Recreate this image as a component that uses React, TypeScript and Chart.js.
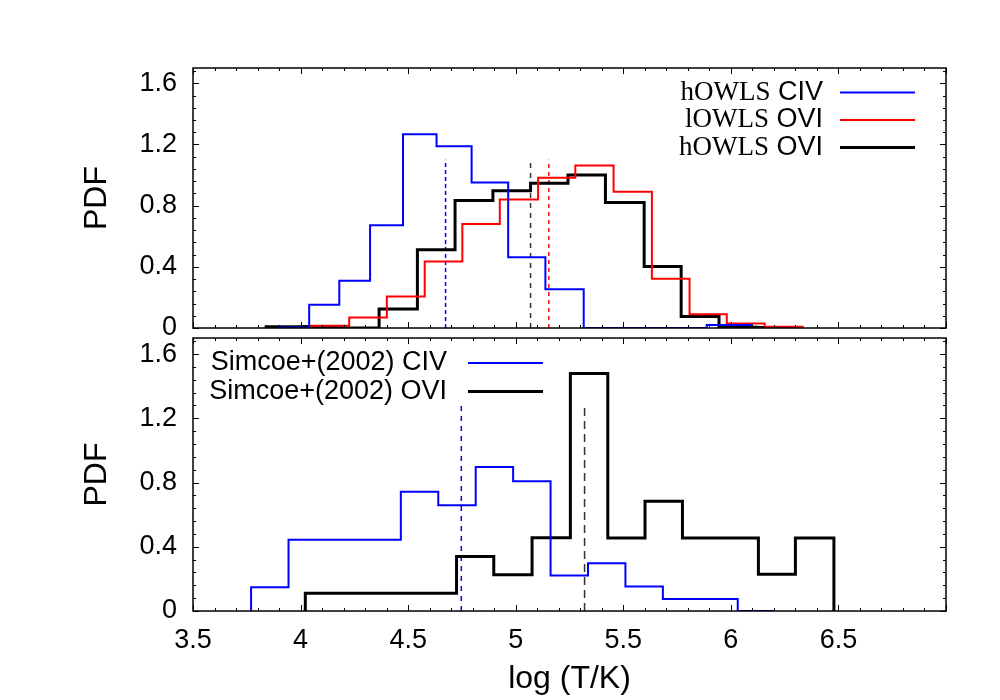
import React, { useEffect, useRef } from 'react';
import { Chart, registerables } from 'chart.js';

Chart.register(...registerables);

// ---------- axes ----------
const X_MIN = 3.5;
const X_MAX = 7.0;
const Y_MIN = 0;
const Y_MAX = 1.7;
const X_TICK_LABELS = ['3.5', '4', '4.5', '5', '5.5', '6', '6.5'];
const Y_TICK_LABELS = ['0', '0.4', '0.8', '1.2', '1.6'];
const X_LABEL = 'log (T/K)';
const Y_LABEL = 'PDF';

// ---------- top panel: OWLS histograms (bin edges + PDF per bin) ----------
const HOWLS_CIV_EDGES = [3.9, 4.04, 4.18, 4.323, 4.476, 4.632, 4.795, 4.965, 5.138, 5.316, 5.888, 6.097];
const HOWLS_CIV_PDF = [0.003, 0.152, 0.309, 0.672, 1.267, 1.189, 0.952, 0.463, 0.254, 0, 0.02];

const LOWLS_OVI_EDGES = [4.05, 4.226, 4.401, 4.577, 4.752, 4.926, 5.104, 5.277, 5.455, 5.633, 5.808, 5.981, 6.157, 6.334];
const LOWLS_OVI_PDF = [0.015, 0.069, 0.206, 0.435, 0.68, 0.841, 0.982, 1.063, 0.891, 0.322, 0.09, 0.03, 0.008];

const HOWLS_OVI_EDGES = [3.84, 4.015, 4.19, 4.365, 4.543, 4.718, 4.894, 5.069, 5.243, 5.417, 5.597, 5.769, 5.945, 6.12, 6.298];
const HOWLS_OVI_PDF = [0.008, 0.01, 0, 0.124, 0.511, 0.833, 0.898, 0.946, 1.0, 0.82, 0.402, 0.076, 0.005, 0.003];

// medians (vertical dashed markers)
const HOWLS_CIV_MEDIAN = 4.674;
const LOWLS_OVI_MEDIAN = 5.154;
const HOWLS_OVI_MEDIAN = 5.069;
const TOP_MEDIAN_HEIGHT = 1.1;

// ---------- bottom panel: Simcoe+(2002) ----------
const SIMCOE_CIV_EDGES = [3.77, 3.944, 4.118, 4.292, 4.466, 4.64, 4.814, 4.988, 5.162, 5.336, 5.51, 5.684, 5.858, 6.032, 6.206];
const SIMCOE_CIV_PDF = [0.148, 0.444, 0.444, 0.444, 0.742, 0.658, 0.896, 0.808, 0.221, 0.298, 0.152, 0.075, 0.075, 0];

const SIMCOE_OVI_EDGES = [4.022, 4.198, 4.374, 4.55, 4.725, 4.898, 5.076, 5.254, 5.428, 5.601, 5.775, 5.952, 6.128, 6.3, 6.479];
const SIMCOE_OVI_PDF = [0.11, 0.11, 0.11, 0.11, 0.34, 0.225, 0.456, 1.479, 0.454, 0.683, 0.454, 0.454, 0.229, 0.454];

const SIMCOE_CIV_MEDIAN = 4.747;
const SIMCOE_OVI_MEDIAN = 5.32;
const BOTTOM_MEDIAN_HEIGHT = 1.277;

const BLUE = '#0000ff';
const RED = '#ff0000';
const BLACK = '#000000';
const SANS = '"Liberation Sans", Arial, Helvetica, sans-serif';
const SERIF = '"Liberation Serif", "Times New Roman", serif';

function histPoints(edges: number[], vals: number[]) {
  const pts: { x: number; y: number }[] = [{ x: edges[0], y: 0 }];
  vals.forEach((v, i) => pts.push({ x: edges[i], y: v }));
  pts.push({ x: edges[edges.length - 1], y: 0 });
  return pts;
}

function histDataset(label: string, edges: number[], vals: number[], color: string, width: number) {
  return {
    label,
    data: histPoints(edges, vals),
    borderColor: color,
    borderWidth: width,
    stepped: 'before' as const,
    pointRadius: 0,
    fill: false,
    borderJoinStyle: 'miter' as const,
    borderCapStyle: 'butt' as const,
    inLegend: true,
  };
}

function medianDataset(x: number, h: number, color: string, dash: number[]) {
  return {
    label: 'median',
    data: [{ x, y: 0 }, { x, y: h }],
    borderColor: color,
    borderWidth: 1.5,
    borderDash: dash,
    pointRadius: 0,
    fill: false,
    inLegend: false,
  };
}

const fmt = (v: number) => String(Number(Number(v).toFixed(2)));

// inward major/minor ticks on all four sides + frame
const frameTicks = {
  id: 'frameTicks',
  afterDatasetsDraw(chart: any) {
    const { ctx, chartArea: a, scales } = chart;
    const x = scales.x;
    const y = scales.y;
    ctx.save();
    ctx.strokeStyle = '#000';
    ctx.lineWidth = 1;
    ctx.beginPath();
    const nx = Math.round((X_MAX - X_MIN) / 0.1);
    for (let i = 0; i <= nx; i++) {
      const px = Math.round(x.getPixelForValue(X_MIN + i * 0.1)) + 0.5;
      const len = i % 5 === 0 ? 6 : 3;
      ctx.moveTo(px, a.bottom);
      ctx.lineTo(px, a.bottom - len);
      ctx.moveTo(px, a.top);
      ctx.lineTo(px, a.top + len);
    }
    const ny = Math.floor((Y_MAX - Y_MIN) / 0.08 + 1e-9);
    for (let j = 0; j <= ny; j++) {
      const py = Math.round(y.getPixelForValue(Y_MIN + j * 0.08)) + 0.5;
      const len = j % 5 === 0 ? 6 : 3;
      ctx.moveTo(a.left, py);
      ctx.lineTo(a.left + len, py);
      ctx.moveTo(a.right, py);
      ctx.lineTo(a.right - len, py);
    }
    ctx.stroke();
    ctx.lineWidth = 1.5;
    ctx.strokeRect(a.left, a.top, a.right - a.left, a.bottom - a.top);
    ctx.restore();
  },
};

const histLegend = {
  id: 'histLegend',
  afterDraw(chart: any, _args: any, opts: any) {
    const { ctx, chartArea: a } = chart;
    const items = chart.data.datasets.filter((d: any) => d.inLegend);
    const base = opts.anchor === 'right' ? a.right : a.left;
    ctx.save();
    items.forEach((d: any, i: number) => {
      const yy = a.top + opts.rowTop + i * opts.rowGap;
      const xr = base + opts.textRight;
      ctx.fillStyle = '#000';
      ctx.textBaseline = 'middle';
      ctx.textAlign = 'right';
      if (opts.mixed) {
        const sp = d.label.indexOf(' ');
        const head = d.label.slice(0, sp);
        const tail = d.label.slice(sp);
        ctx.font = `${opts.size}px ${SANS}`;
        ctx.fillText(tail, xr, yy);
        const w = ctx.measureText(tail).width;
        ctx.font = `${opts.size}px ${SERIF}`;
        ctx.fillText(head, xr - w, yy);
      } else {
        ctx.font = `${opts.size}px ${SANS}`;
        ctx.fillText(d.label, xr, yy);
      }
      ctx.strokeStyle = d.borderColor;
      ctx.lineWidth = d.borderWidth;
      ctx.setLineDash([]);
      ctx.beginPath();
      ctx.moveTo(base + opts.lineFrom, yy);
      ctx.lineTo(base + opts.lineTo, yy);
      ctx.stroke();
    });
    ctx.restore();
  },
};

function makeOptions(bottom: boolean, legendOpts: any) {
  return {
    animation: false as const,
    responsive: false,
    events: [] as any[],
    layout: {
      padding: bottom
        ? { left: 0, right: 54, top: 338, bottom: 0 }
        : { left: 0, right: 54, top: 68, bottom: 372 },
    },
    scales: {
      x: {
        type: 'linear' as const,
        min: X_MIN,
        max: X_MAX,
        grid: { display: false, drawTicks: false },
        border: { display: false },
        ticks: {
          display: bottom,
          stepSize: 0.5,
          autoSkip: false,
          maxRotation: 0,
          padding: 13,
          color: '#000',
          font: { family: SANS, size: 27 },
          callback: (v: any) => (X_TICK_LABELS.includes(fmt(v)) ? fmt(v) : ''),
        },
        title: {
          display: bottom,
          text: X_LABEL,
          color: '#000',
          font: { family: SANS, size: 32 },
          padding: { top: 0, bottom: 2 },
        },
        afterFit: (s: any) => {
          s.height = bottom ? 89 : 0;
        },
      },
      y: {
        min: Y_MIN,
        max: Y_MAX,
        grid: { display: false, drawTicks: false },
        border: { display: false },
        ticks: {
          stepSize: 0.4,
          includeBounds: false,
          autoSkip: false,
          padding: 16,
          color: '#000',
          font: { family: SANS, size: 27 },
          callback: (v: any) => (Y_TICK_LABELS.includes(fmt(v)) ? fmt(v) : ''),
        },
        title: {
          display: true,
          text: Y_LABEL,
          color: '#000',
          font: { family: SANS, size: 32 },
          padding: { top: 78, bottom: 0 },
        },
        afterFit: (s: any) => {
          s.width = 193;
        },
      },
    },
    plugins: {
      legend: { display: false },
      tooltip: { enabled: false },
      histLegend: legendOpts,
    },
  };
}

export default function App() {
  const topRef = useRef<HTMLCanvasElement>(null);
  const botRef = useRef<HTMLCanvasElement>(null);

  useEffect(() => {
    const top = new Chart(topRef.current as HTMLCanvasElement, {
      type: 'line',
      data: {
        datasets: [
          histDataset('hOWLS CIV', HOWLS_CIV_EDGES, HOWLS_CIV_PDF, BLUE, 2),
          histDataset('lOWLS OVI', LOWLS_OVI_EDGES, LOWLS_OVI_PDF, RED, 2),
          histDataset('hOWLS OVI', HOWLS_OVI_EDGES, HOWLS_OVI_PDF, BLACK, 3),
          medianDataset(HOWLS_CIV_MEDIAN, TOP_MEDIAN_HEIGHT, BLUE, [4, 3]),
          medianDataset(LOWLS_OVI_MEDIAN, TOP_MEDIAN_HEIGHT, RED, [4, 4]),
          medianDataset(HOWLS_OVI_MEDIAN, TOP_MEDIAN_HEIGHT, '#333333', [5, 5]),
        ] as any,
      },
      options: makeOptions(false, {
        anchor: 'right',
        textRight: -123,
        lineFrom: -106,
        lineTo: -31,
        rowTop: 24.5,
        rowGap: 27.5,
        size: 27,
        mixed: true,
      }) as any,
      plugins: [frameTicks, histLegend],
    });

    const bot = new Chart(botRef.current as HTMLCanvasElement, {
      type: 'line',
      data: {
        datasets: [
          histDataset('Simcoe+(2002) CIV', SIMCOE_CIV_EDGES, SIMCOE_CIV_PDF, BLUE, 2),
          histDataset('Simcoe+(2002) OVI', SIMCOE_OVI_EDGES, SIMCOE_OVI_PDF, BLACK, 3),
          medianDataset(SIMCOE_CIV_MEDIAN, BOTTOM_MEDIAN_HEIGHT, BLUE, [5, 5]),
          medianDataset(SIMCOE_OVI_MEDIAN, BOTTOM_MEDIAN_HEIGHT, '#333333', [8, 5]),
        ] as any,
      },
      options: makeOptions(true, {
        anchor: 'left',
        textRight: 254,
        lineFrom: 275,
        lineTo: 350,
        rowTop: 25,
        rowGap: 28.4,
        size: 27,
        mixed: false,
      }) as any,
      plugins: [frameTicks, histLegend],
    });

    return () => {
      top.destroy();
      bot.destroy();
    };
  }, []);

  return (
    <div style={{ position: 'fixed', left: 0, top: 0, width: 1000, height: 700, background: '#ffffff' }}>
      <canvas ref={topRef} width={1000} height={700} style={{ position: 'absolute', left: 0, top: 0 }} />
      <canvas ref={botRef} width={1000} height={700} style={{ position: 'absolute', left: 0, top: 0 }} />
    </div>
  );
}
